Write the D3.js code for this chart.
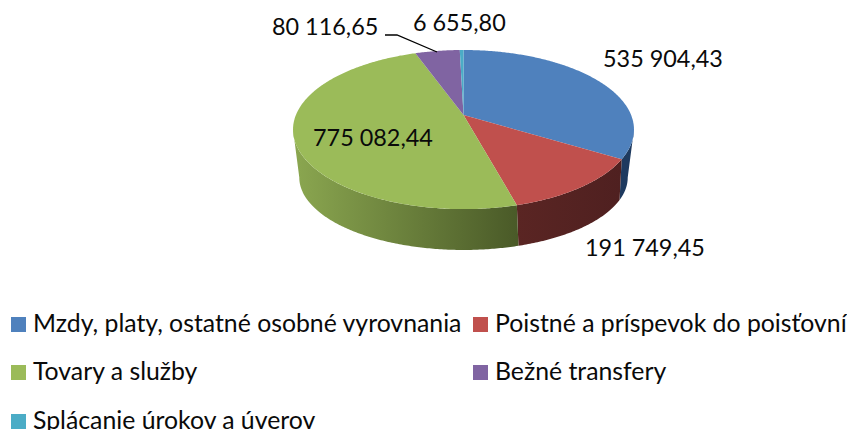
<!DOCTYPE html>
<html><head><meta charset="utf-8">
<script src="https://cdn.jsdelivr.net/npm/d3@7/dist/d3.min.js"></script>
<style>html,body{margin:0;padding:0;background:#fff;overflow:hidden}svg{display:block}text{font-family:Lato,"Open Sans",sans-serif;fill:#0a0a0a}</style>
</head><body><svg id="c" width="847" height="430"></svg>
<script>
const categories = ["Mzdy, platy, ostatné osobné vyrovnania","Poistné a príspevok do poisťovní","Tovary a služby","Bežné transfery","Splácanie úrokov a úverov"];
const values = [535904.43,191749.45,775082.44,80116.65,6655.80];
const valueLabels = ["535 904,43","191 749,45","775 082,44","80 116,65","6 655,80"];
const colors = ["#4f81bd","#c0504d","#9bbb59","#8064a2","#4bacc6"];
const labelPos = [[603,67],[585,256],[313,146],[272,35],[413,31]];

const svg = d3.select("#c");
const top_ = {cx:463.5, cy:115, a:167.6, b:76.9, k:0.183};
const bot = {cx:463.5, cy:159.3, a:159, b:68, k:0.25};
const proj = (e,t)=>{const u=Math.sin(t),v=-Math.cos(t),d=1-e.k*v;return [e.cx+e.a*u/d,e.cy+e.b*v/d];};
const slices = d3.pie().sort(null).value(d=>d)(values);
const arcPts = (e,s,t)=>{const n=Math.max(2,Math.ceil((t-s)/0.01));return d3.range(n+1).map(i=>proj(e,s+(t-s)*i/n));};
const line = d3.line();
const defs = svg.append("defs");
const silR = e=>Math.acos(-e.k), silL = e=>2*Math.PI - silR(e);
const clampArc = (e,d)=>arcPts(e,Math.max(d.startAngle,silR(e)),Math.min(d.endAngle,silL(e)));
const sideStops = [["#1e3a5f","#1e3a5f"],["#4f2020","#5a2523"],["#4a5a28","#8ba750"]];
sideStops.forEach((s,i)=>{
  const g=defs.append("linearGradient").attr("id","g"+i).attr("gradientUnits","userSpaceOnUse");
  const xs=clampArc(top_,slices[i]).map(p=>p[0]);
  g.attr("x1",d3.max(xs)).attr("x2",d3.min(xs)).attr("y1",0).attr("y2",0);
  g.append("stop").attr("offset",0).attr("stop-color",s[0]);
  g.append("stop").attr("offset",1).attr("stop-color",s[1]);
});
// sides: only the part of each slice between the silhouette angles is visible
slices.forEach((d,i)=>{
  if(d.startAngle>=silL(top_) || d.endAngle<=silR(top_)) return;
  const a=clampArc(top_,d), b=clampArc(bot,d).reverse();
  svg.append("path").attr("d",line(a.concat(b))+"Z").attr("fill",`url(#g${i})`);
});
// tops
slices.forEach((d,i)=>{
  const pts=[[top_.cx,top_.cy]].concat(arcPts(top_,d.startAngle,d.endAngle));
  svg.append("path").attr("d",line(pts)+"Z").attr("fill",colors[i]);
});
// leader
svg.append("path").attr("d",line([[385,35],[397,35],[437,52]])).attr("fill","none").attr("stroke","#000").attr("stroke-width",1.3);
// data labels
valueLabels.forEach((t,i)=>svg.append("text").attr("x",labelPos[i][0]).attr("y",labelPos[i][1]).attr("font-size",23.4).text(t));
// legend
const col=d3.scaleOrdinal().domain([0,1]).range([11,473]);
const row=d3.scaleOrdinal().domain([0,1,2]).range([317,365,414]);
categories.forEach((t,i)=>{
  const c=i%2,r=Math.floor(i/2);
  svg.append("rect").attr("x",col(c)).attr("y",row(r)).attr("width",15).attr("height",15).attr("fill",colors[i]);
  svg.append("text").attr("x",col(c)+22).attr("y",row(r)+15).attr("font-size",24.8).text(t);
});
</script></body></html>
